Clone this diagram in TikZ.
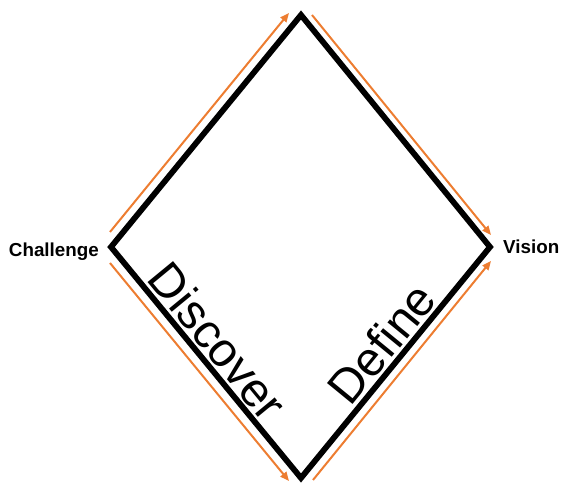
\documentclass[tikz,border=0pt]{standalone}
\usepackage{fontspec}
\setmainfont{Liberation Sans}
\usetikzlibrary{arrows.meta}
\definecolor{flow}{RGB}{237,125,49}

\begin{document}
\begin{tikzpicture}[x=1pt,y=-1pt,
    edge/.style={line width=5.8pt,line join=miter},
    flowarrow/.style={draw=flow,line width=2pt,-{Triangle[length=9pt,width=7.5pt]}},
    endlabel/.style={font=\bfseries\fontsize{18.8}{20}\selectfont,inner sep=0pt},
    phase/.style={font=\fontsize{48}{50}\selectfont,inner sep=0pt}]
  \useasboundingbox (0,0) rectangle (563,486);
  % Corners of the diamond
  \coordinate (left) at (111,247);
  \coordinate (top) at (301,15);
  \coordinate (right) at (490,247);
  \coordinate (bottom) at (301,478);
  \draw[edge] (left) -- (top) -- (right) -- (bottom) -- cycle;
  % Flow arrows beside the sides
  \coordinate (ul1) at (110,232); \coordinate (ul2) at (289,13);
  \coordinate (ur1) at (312,15);  \coordinate (ur2) at (491,235);
  \coordinate (ll1) at (110,263); \coordinate (ll2) at (289,481);
  \coordinate (lr1) at (313,480); \coordinate (lr2) at (491,261);
  \draw[flowarrow] (ul1) -- (ul2);
  \draw[flowarrow] (ur1) -- (ur2);
  \draw[flowarrow] (ll1) -- (ll2);
  \draw[flowarrow] (lr1) -- (lr2);
  % End labels
  \node[endlabel,anchor=base east] (challenge) at (99,257) {Challenge};
  \node[endlabel,anchor=base west] (vision) at (503,254) {Vision};
  % Phase labels along the lower sides
  \path (left) -- (bottom) node[phase,pos=0.47,sloped,above=5pt] (discover) {Discover};
  \path (bottom) -- (right) node[phase,pos=0.52,sloped,above=5pt] (define) {Define};
\end{tikzpicture}
\end{document}
